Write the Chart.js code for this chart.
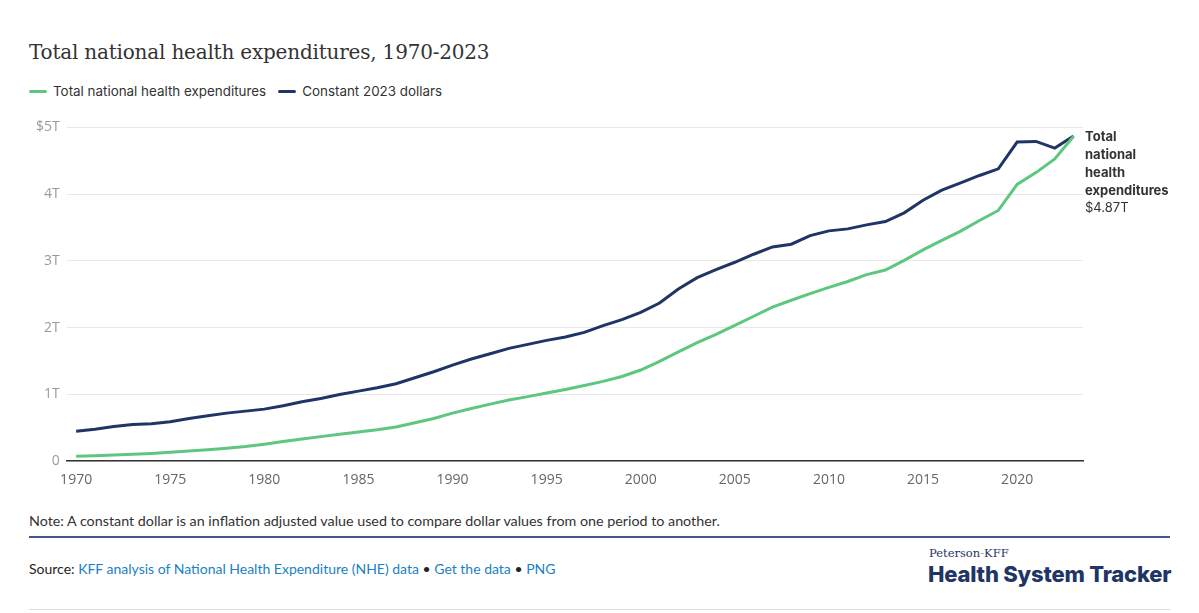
<!DOCTYPE html>
<html>
<head>
<meta charset="utf-8">
<script src="https://cdn.jsdelivr.net/npm/chart.js@4.4.1/dist/chart.umd.min.js"></script>
<style>
  html, body { margin: 0; padding: 0; background: #fff; }
  body { width: 1199px; height: 613px; position: relative; overflow: hidden; font-family: "Inter", sans-serif; color: #333; }
  #title { position: absolute; left: 29px; top: 40px; font-family: "DejaVu Serif", serif; font-size: 20px; color: #333; letter-spacing: -0.2px; }
  #legend { position: absolute; left: 29px; top: 83px; display: flex; font-size: 13.4px; color: #333; }
  #legend .item { display: flex; align-items: center; margin-right: 12px; }
  #legend .sw { width: 18px; height: 3px; border-radius: 2px; margin-right: 6px; }
  #wrap { position: absolute; left: 0; top: 112px; width: 1199px; height: 386px; }
  #note { position: absolute; left: 29px; top: 512px; font-family: "Lato", sans-serif; font-size: 14.3px; color: #333; }
  #rule1 { position: absolute; left: 29px; top: 536px; width: 1141px; height: 0; border-top: 2px solid #3d5a8a; }
  #source { position: absolute; left: 29px; top: 560px; font-family: "Lato", sans-serif; font-size: 14px; color: #222; }
  #source a { color: #1a7fc4; text-decoration: none; }
  #rule2 { position: absolute; left: 29px; top: 609px; width: 1141px; height: 0; border-top: 1px solid #ddd; }
  #logo1 { position: absolute; left: 929px; top: 546px; font-family: "DejaVu Serif", serif; font-size: 11.5px; color: #1f3566; }
  #logo1 span { color: #5ec77f; }
  #logo2 { position: absolute; left: 928px; top: 561px; font-family: "Inter", sans-serif; font-weight: 800; font-size: 22px; color: #1f3566; letter-spacing: -0.2px; }
</style>
</head>
<body>
<div id="title">Total national health expenditures, 1970-2023</div>
<div id="legend"></div>
<div id="wrap"><canvas id="chart"></canvas></div>
<div id="note">Note: A constant dollar is an inflation adjusted value used to compare dollar values from one period to another.</div>
<div id="rule1"></div>
<div id="source">Source: <a>KFF analysis of National Health Expenditure (NHE) data</a> • <a>Get the data</a> • <a>PNG</a></div>
<div id="rule2"></div>
<div id="logo1">Peterson<span>-</span>KFF</div>
<div id="logo2">Health System Tracker</div>
<script>
// ---- Data (trillions of dollars) ----
const YEARS = [];
for (let y = 1970; y <= 2023; y++) YEARS.push(String(y));

const NOMINAL = [
  0.075, 0.083, 0.093, 0.103, 0.117, 0.133, 0.152, 0.173, 0.195, 0.221,
  0.255, 0.296, 0.333, 0.368, 0.403, 0.439, 0.471, 0.513, 0.575, 0.639,
  0.720, 0.789, 0.855, 0.917, 0.967, 1.021, 1.075, 1.133, 1.196, 1.269,
  1.366, 1.494, 1.638, 1.775, 1.901, 2.035, 2.171, 2.308, 2.411, 2.510,
  2.604, 2.692, 2.795, 2.863, 3.009, 3.166, 3.307, 3.447, 3.605, 3.756,
  4.145, 4.323, 4.528, 4.867
];

const CONSTANT = [
  0.45, 0.48, 0.52, 0.55, 0.56, 0.59, 0.64, 0.68, 0.72, 0.75,
  0.78, 0.83, 0.89, 0.94, 1.00, 1.05, 1.10, 1.16, 1.25, 1.34,
  1.44, 1.53, 1.61, 1.69, 1.75, 1.81, 1.86, 1.93, 2.03, 2.12,
  2.23, 2.37, 2.58, 2.75, 2.87, 2.98, 3.10, 3.21, 3.25, 3.38,
  3.45, 3.48, 3.54, 3.59, 3.72, 3.91, 4.06, 4.17, 4.28, 4.38,
  4.78, 4.79, 4.69, 4.87
];

const SERIES_LABELS = ["Total national health expenditures", "Constant 2023 dollars"];
const GREEN = "#5ec77f";
const NAVY = "#1f3566";

// ---- End label plugin ----
const endLabel = {
  id: "endLabel",
  afterDatasetsDraw(chart) {
    const meta = chart.getDatasetMeta(0);
    const pt = meta.data[meta.data.length - 1];
    const ctx = chart.ctx;
    const x = chart.chartArea.right + 2;
    ctx.save();
    ctx.fillStyle = "#333";
    ctx.textAlign = "left";
    ctx.textBaseline = "middle";
    ctx.font = "bold 13px Inter";
    ["Total", "national", "health", "expenditures"].forEach((t, i) => {
      ctx.fillText(t, x, pt.y + 1 + i * 17.8);
    });
    ctx.font = "13px Inter";
    ctx.fillText("$" + NOMINAL[NOMINAL.length - 1].toFixed(2) + "T", x, pt.y + 1 + 4 * 17.8);
    ctx.restore();
  }
};

const chart = new Chart(document.getElementById("chart"), {
  type: "line",
  data: {
    labels: YEARS,
    datasets: [
      {
        label: SERIES_LABELS[0],
        data: NOMINAL,
        borderColor: GREEN,
        backgroundColor: GREEN,
        borderWidth: 3,
        pointRadius: 0,
        tension: 0,
      },
      {
        label: SERIES_LABELS[1],
        data: CONSTANT,
        borderColor: NAVY,
        backgroundColor: NAVY,
        borderWidth: 3,
        pointRadius: 0,
        tension: 0,
      },
    ],
  },
  options: {
    responsive: true,
    maintainAspectRatio: false,
    animation: false,
    layout: { padding: { left: 29, right: 116, top: 5, bottom: 0 } },
    plugins: {
      legend: { display: false },
      tooltip: { enabled: false },
    },
    scales: {
      x: {
        offset: true,
        grid: { display: false, drawTicks: false },
        border: { display: true, color: "#333", width: 1.5 },
        ticks: {
          autoSkip: false,
          maxRotation: 0,
          padding: 10,
          color: "#666",
          font: { family: "Open Sans", size: 14 },
          callback(v, i) {
            const yr = Number(YEARS[i]);
            return yr % 5 === 0 ? YEARS[i] : "";
          },
        },
      },
      y: {
        min: 0,
        max: 5,
        grid: { color: "#e8e8e8", drawTicks: false },
        border: { display: false },
        ticks: {
          stepSize: 1,
          padding: 7,
          color: "#9a9a9a",
          font: { family: "Open Sans", size: 14 },
          callback(v) {
            if (v === 0) return "0";
            return (v === 5 ? "$" : "") + v + "T";
          },
        },
      },
    },
  },
  plugins: [endLabel],
});

// ---- HTML legend built from the datasets ----
document.getElementById("legend").innerHTML = chart.data.datasets
  .map(d => `<div class="item"><div class="sw" style="background:${d.borderColor}"></div>${d.label}</div>`)
  .join("");
</script>
</body>
</html>
